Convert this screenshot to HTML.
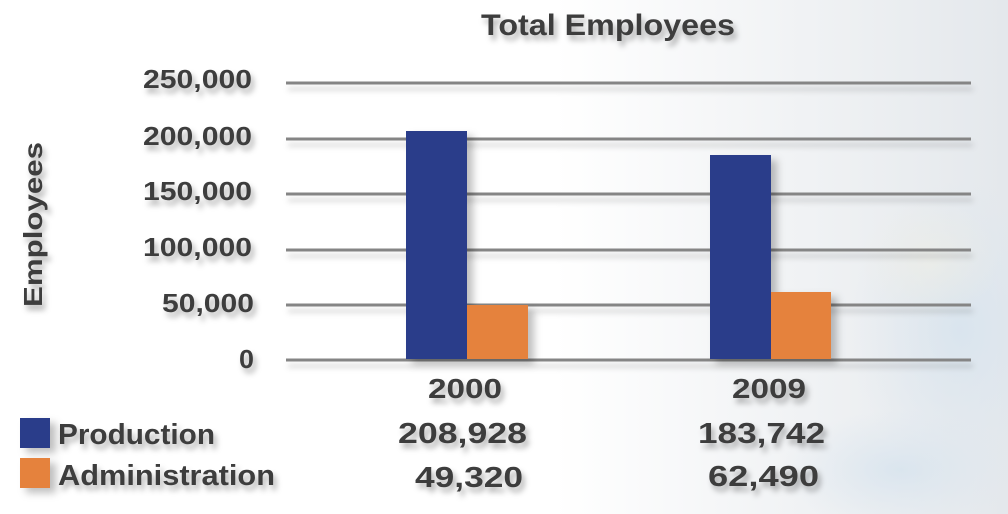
<!DOCTYPE html>
<html><head><meta charset="utf-8"><style>
html,body{margin:0;padding:0;width:1008px;height:514px;overflow:hidden;background:#fff}
svg{display:block}
text{font-family:"Liberation Sans",sans-serif;font-weight:bold;fill:#3c3c3c}
</style></head><body>
<svg width="1008" height="514" viewBox="0 0 1008 514" xmlns="http://www.w3.org/2000/svg">
<defs>
<linearGradient id="bg" x1="0" y1="0" x2="1" y2="0">
<stop offset="0" stop-color="#ffffff"/>
<stop offset="0.55" stop-color="#ffffff"/>
<stop offset="0.8" stop-color="#f0f2f4"/>
<stop offset="1" stop-color="#e4e8ec"/>
</linearGradient>
<radialGradient id="blue1" cx="0.5" cy="0.5" r="0.5">
<stop offset="0" stop-color="#d6e3ee" stop-opacity="0.8"/>
<stop offset="1" stop-color="#dce6ef" stop-opacity="0"/>
</radialGradient>
<radialGradient id="yel" cx="0.5" cy="0.5" r="0.5">
<stop offset="0" stop-color="#f2efe2" stop-opacity="0.5"/>
<stop offset="1" stop-color="#f2efe2" stop-opacity="0"/>
</radialGradient>
<filter id="ts" x="-20%" y="-30%" width="150%" height="180%">
<feDropShadow dx="3" dy="5" stdDeviation="3" flood-color="#000" flood-opacity="0.3"/>
</filter>
<filter id="ls" x="-5%" y="-300%" width="110%" height="800%">
<feDropShadow dx="2" dy="6" stdDeviation="3" flood-color="#000" flood-opacity="0.18"/>
</filter>
<filter id="bs" x="-30%" y="-10%" width="180%" height="130%">
<feDropShadow dx="6" dy="5" stdDeviation="4" flood-color="#000" flood-opacity="0.25"/>
</filter>
</defs>
<rect width="1008" height="514" fill="url(#bg)"/>
<ellipse cx="960" cy="330" rx="110" ry="150" fill="url(#blue1)"/>
<ellipse cx="900" cy="470" rx="120" ry="60" fill="url(#blue1)"/>
<ellipse cx="930" cy="260" rx="70" ry="60" fill="url(#yel)"/>

<g filter="url(#ls)" stroke="#858585" stroke-width="3">
<line x1="286" y1="83" x2="971" y2="83"/>
<line x1="286" y1="139" x2="971" y2="139"/>
<line x1="286" y1="194" x2="971" y2="194"/>
<line x1="286" y1="250" x2="971" y2="250"/>
<line x1="286" y1="305" x2="971" y2="305"/>
<line x1="286" y1="360" x2="971" y2="360"/>
</g>

<g filter="url(#bs)">
<rect x="406" y="131" width="61" height="228" fill="#293e8a"/>
<rect x="467" y="305" width="61" height="54" fill="#e5823c"/>
<rect x="710" y="155" width="61" height="204" fill="#293e8a"/>
<rect x="771" y="292" width="60" height="67" fill="#e5823c"/>
</g>

<g filter="url(#ts)">
<text x="481" y="35" font-size="30" textLength="254" lengthAdjust="spacingAndGlyphs">Total Employees</text>

<text x="143" y="88" font-size="26" textLength="109" lengthAdjust="spacingAndGlyphs">250,000</text>
<text x="143" y="145" font-size="26" textLength="109" lengthAdjust="spacingAndGlyphs">200,000</text>
<text x="143" y="200" font-size="26" textLength="109" lengthAdjust="spacingAndGlyphs">150,000</text>
<text x="143" y="256" font-size="26" textLength="109" lengthAdjust="spacingAndGlyphs">100,000</text>
<text x="162" y="312" font-size="26" textLength="92" lengthAdjust="spacingAndGlyphs">50,000</text>
<text x="239" y="368" font-size="26" textLength="15" lengthAdjust="spacingAndGlyphs">0</text>

<text transform="translate(42,307) rotate(-90)" x="0" y="0" font-size="26" textLength="165" lengthAdjust="spacingAndGlyphs">Employees</text>

<text x="428" y="398" font-size="28" textLength="74" lengthAdjust="spacingAndGlyphs">2000</text>
<text x="732" y="398" font-size="28" textLength="74" lengthAdjust="spacingAndGlyphs">2009</text>

<text x="398" y="443" font-size="29" textLength="129" lengthAdjust="spacingAndGlyphs">208,928</text>
<text x="415" y="487" font-size="29" textLength="108" lengthAdjust="spacingAndGlyphs">49,320</text>
<text x="698" y="443" font-size="29" textLength="127" lengthAdjust="spacingAndGlyphs">183,742</text>
<text x="708" y="486" font-size="29" textLength="111" lengthAdjust="spacingAndGlyphs">62,490</text>

<text x="58" y="444" font-size="29" textLength="157" lengthAdjust="spacingAndGlyphs">Production</text>
<text x="58" y="485" font-size="29" textLength="217" lengthAdjust="spacingAndGlyphs">Administration</text>
</g>

<g filter="url(#bs)">
<rect x="20" y="418" width="30" height="30" fill="#293e8a"/>
<rect x="20" y="458" width="30" height="30" fill="#e5823c"/>
</g>
</svg>
</body></html>
